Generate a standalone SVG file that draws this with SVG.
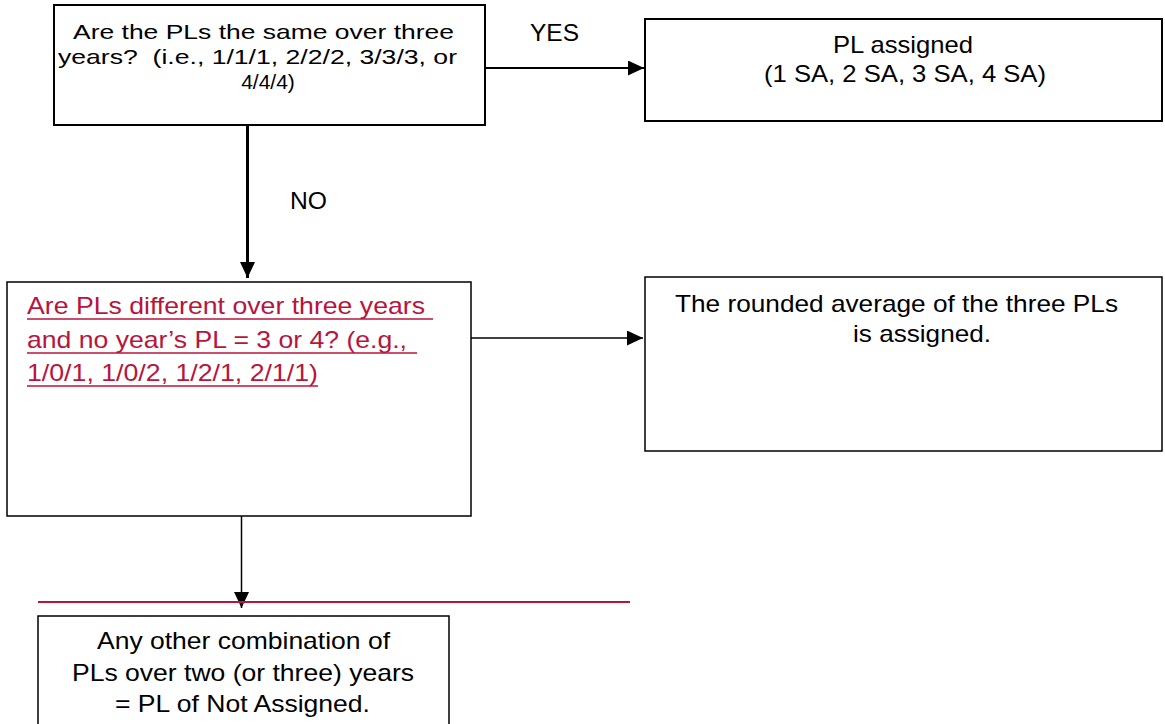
<svg xmlns="http://www.w3.org/2000/svg" width="1165" height="724" viewBox="0 0 1165 724">
<style>
  .box { fill: #fff; stroke: #000; }
  .t { font-family: "Liberation Sans", Arial, sans-serif; font-size: 24px; fill: #000; }
  .s { font-size: 21px; }
  .red { fill: #b8143c; }
  .ul { stroke: #b8143c; stroke-width: 1.5; }
  .conn { stroke: #000; fill: none; }
</style>
<defs>
  <marker id="ah" markerWidth="16" markerHeight="15" refX="16" refY="7.5" orient="auto" markerUnits="userSpaceOnUse">
    <path d="M0,0 L16,7.5 L0,15 Z" fill="#000"/>
  </marker>
</defs>
<rect width="1165" height="724" fill="#fff"/>

<g id="connectors">
  <line class="conn" x1="485" y1="68" x2="644" y2="68" stroke-width="2" marker-end="url(#ah)"/>
  <line class="conn" x1="247.5" y1="125" x2="247.5" y2="278" stroke-width="3" marker-end="url(#ah)"/>
  <line class="conn" x1="471" y1="338" x2="643" y2="338" stroke-width="1.5" marker-end="url(#ah)"/>
  <line class="conn" x1="241.5" y1="516" x2="241.5" y2="608" stroke-width="1.5" marker-end="url(#ah)"/>
  <text class="t" x="530" y="41" textLength="49" lengthAdjust="spacingAndGlyphs">YES</text>
  <text class="t" x="290" y="209" textLength="37" lengthAdjust="spacingAndGlyphs">NO</text>
</g>

<g id="redline">
  <line x1="38" y1="602" x2="630" y2="602" stroke="#b8143c" stroke-width="2"/>
</g>

<g id="node-same">
  <rect class="box" x="54" y="5" width="431" height="120" stroke-width="2"/>
  <text class="t s" x="73" y="39" textLength="381" lengthAdjust="spacingAndGlyphs">Are the PLs the same over three</text>
  <text class="t s" x="58" y="64" textLength="399" lengthAdjust="spacingAndGlyphs" xml:space="preserve">years?  (i.e., 1/1/1, 2/2/2, 3/3/3, or</text>
  <text class="t s" x="268" y="89" text-anchor="middle">4/4/4)</text>
</g>

<g id="node-assigned">
  <rect class="box" x="645" y="19" width="517" height="102" stroke-width="2"/>
  <text class="t" x="833" y="53" textLength="140" lengthAdjust="spacingAndGlyphs">PL assigned</text>
  <text class="t" x="764" y="82" textLength="282" lengthAdjust="spacingAndGlyphs">(1 SA, 2 SA, 3 SA, 4 SA)</text>
</g>

<g id="node-different">
  <rect class="box" x="7" y="282" width="464" height="234" stroke-width="1.5"/>
  <text class="t red" x="27" y="314" textLength="398" lengthAdjust="spacingAndGlyphs">Are PLs different over three years</text>
  <line class="ul" x1="27" y1="319" x2="433" y2="319"/>
  <text class="t red" x="27" y="348" textLength="380" lengthAdjust="spacingAndGlyphs">and no year’s PL = 3 or 4? (e.g.,</text>
  <line class="ul" x1="27" y1="353" x2="417" y2="353"/>
  <text class="t red" x="27" y="381" textLength="291" lengthAdjust="spacingAndGlyphs">1/0/1, 1/0/2, 1/2/1, 2/1/1)</text>
  <line class="ul" x1="27" y1="386" x2="318" y2="386"/>
</g>

<g id="node-average">
  <rect class="box" x="645" y="277" width="517" height="174" stroke-width="1.5"/>
  <text class="t" x="675" y="312" textLength="443" lengthAdjust="spacingAndGlyphs">The rounded average of the three PLs</text>
  <text class="t" x="853" y="342" textLength="138" lengthAdjust="spacingAndGlyphs">is assigned.</text>
</g>

<g id="node-other">
  <rect class="box" x="38" y="616" width="411" height="120" stroke-width="1.5"/>
  <text class="t" x="97" y="649" textLength="293" lengthAdjust="spacingAndGlyphs">Any other combination of</text>
  <text class="t" x="72" y="681" textLength="342" lengthAdjust="spacingAndGlyphs">PLs over two (or three) years</text>
  <text class="t" x="115" y="712" textLength="255" lengthAdjust="spacingAndGlyphs">= PL of Not Assigned.</text>
</g>
</svg>
